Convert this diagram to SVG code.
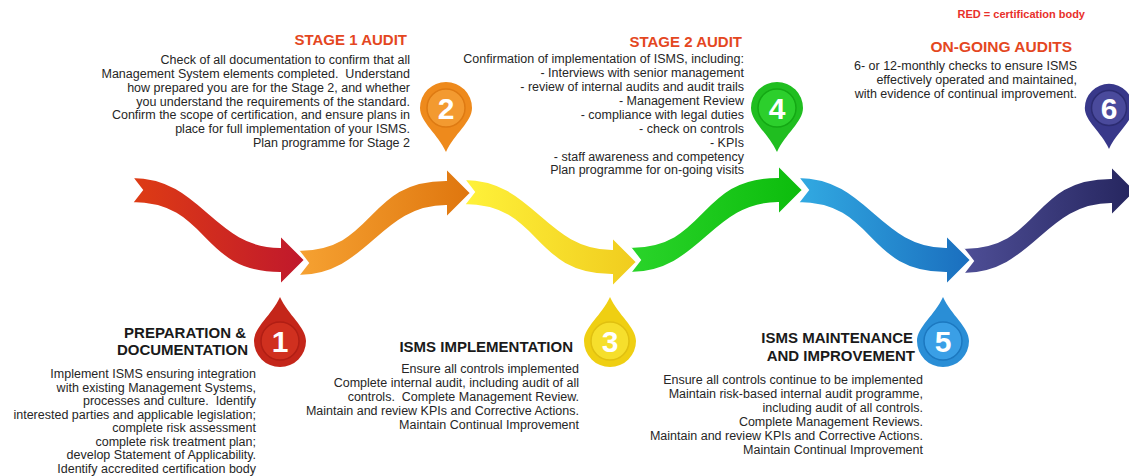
<svg xmlns="http://www.w3.org/2000/svg" width="1129" height="476" viewBox="0 0 1129 476">
<defs>
<style>
.h{font-family:"Liberation Sans",Arial,sans-serif;font-weight:bold;font-size:15px;fill:#e4471f;text-anchor:end}
.hk{font-family:"Liberation Sans",Arial,sans-serif;font-weight:bold;font-size:15px;fill:#1a1a1a;text-anchor:end}
.b{font-family:"Liberation Sans",Arial,sans-serif;font-size:12.5px;fill:#262626;text-anchor:end;white-space:pre}
.red{font-family:"Liberation Sans",Arial,sans-serif;font-weight:bold;font-size:11px;fill:#e8302a;text-anchor:end}
.num{font-family:"Liberation Sans",Arial,sans-serif;font-weight:bold;font-size:30px;fill:#ffffff;text-anchor:middle}
.arr{stroke:#ffffff;stroke-width:2;stroke-linejoin:miter}
</style>
<linearGradient id="gRed" x1="0" y1="0" x2="1" y2="0"><stop offset="0" stop-color="#de3c14"/><stop offset="1" stop-color="#c0182c"/></linearGradient>
<linearGradient id="gOra" x1="0" y1="0" x2="1" y2="0"><stop offset="0" stop-color="#f6a232"/><stop offset="1" stop-color="#df760e"/></linearGradient>
<linearGradient id="gYel" x1="0" y1="0" x2="1" y2="0"><stop offset="0" stop-color="#fff23a"/><stop offset="1" stop-color="#f0cc1e"/></linearGradient>
<linearGradient id="gGre" x1="0" y1="0" x2="1" y2="0"><stop offset="0" stop-color="#2ad42a"/><stop offset="1" stop-color="#0cbc0c"/></linearGradient>
<linearGradient id="gBlu" x1="0" y1="0" x2="1" y2="0"><stop offset="0" stop-color="#32aae2"/><stop offset="1" stop-color="#1a6ebe"/></linearGradient>
<linearGradient id="gNav" x1="0" y1="0" x2="1" y2="0"><stop offset="0" stop-color="#4e4e96"/><stop offset="1" stop-color="#25255e"/></linearGradient>
<path id="arrow" d="M0,-13 C70,-13 82,57 148,57 L148,45 L173,70 L148,95 L148,83 C66,83 78,13 0,13 L10,0 Z"/>
<path id="pin" d="M-26,0 A26,26 0 1 1 26,0 C26,14 8,26 0,44 C-8,26 -26,14 -26,0 Z"/>
</defs>
<rect x="0" y="0" width="1129" height="476" fill="#ffffff"/>

<g id="connectors">
<use href="#arrow" class="arr" fill="url(#gRed)" transform="translate(132,190)"/>
<use href="#arrow" class="arr" fill="url(#gOra)" transform="translate(298,263) scale(1,-1)"/>
<use href="#arrow" class="arr" fill="url(#gYel)" transform="translate(464,192)"/>
<use href="#arrow" class="arr" fill="url(#gGre)" transform="translate(630,260) scale(1,-1)"/>
<use href="#arrow" class="arr" fill="url(#gBlu)" transform="translate(798,190)"/>
<use href="#arrow" class="arr" fill="url(#gNav)" transform="translate(963,261) scale(1,-1)"/>
</g>

<text class="red" x="1085" y="18">RED = certification body</text>

<g id="node1">
<g transform="translate(280,341) scale(1,-1)"><use href="#pin" fill="#c4261a"/></g>
<circle cx="280" cy="341" r="19" fill="#d0301f" stroke="#b01e14" stroke-width="1.5"/>
<text class="num" x="280" y="352">1</text>
<text class="hk" x="246" y="338">PREPARATION &amp;</text>
<text class="hk" x="248" y="355">DOCUMENTATION</text>
<text class="b" x="256" y="378">Implement ISMS ensuring integration</text>
<text class="b" x="256" y="391.5">with existing Management Systems,</text>
<text class="b" x="256" y="405">processes and culture.  Identify</text>
<text class="b" x="256" y="418.5">interested parties and applicable legislation;</text>
<text class="b" x="256" y="432">complete risk assessment</text>
<text class="b" x="256" y="445.5">complete risk treatment plan;</text>
<text class="b" x="256" y="459">develop Statement of Applicability.</text>
<text class="b" x="256" y="472.5">Identify accredited certification body</text>
</g>

<g id="node2">
<use href="#pin" fill="#ee8a1c" transform="translate(446,108)"/>
<circle cx="446" cy="108" r="19" fill="#f39a30" stroke="#de7a12" stroke-width="1.5"/>
<text class="num" x="446" y="119">2</text>
<text class="h" x="407" y="45">STAGE 1 AUDIT</text>
<text class="b" x="410" y="64">Check of all documentation to confirm that all</text>
<text class="b" x="410" y="78">Management System elements completed.  Understand</text>
<text class="b" x="410" y="91.5">how prepared you are for the Stage 2, and whether</text>
<text class="b" x="410" y="105.5">you understand the requirements of the standard.</text>
<text class="b" x="410" y="119">Confirm the scope of certification, and ensure plans in</text>
<text class="b" x="410" y="133">place for full implementation of your ISMS.</text>
<text class="b" x="410" y="147">Plan programme for Stage 2</text>
</g>

<g id="node3">
<g transform="translate(610,341) scale(1,-1)"><use href="#pin" fill="#efcf12"/></g>
<circle cx="610" cy="341" r="19" fill="#f6df2c" stroke="#e0c010" stroke-width="1.5"/>
<text class="num" x="610" y="352">3</text>
<text class="hk" x="573" y="352">ISMS IMPLEMENTATION</text>
<text class="b" x="579" y="373">Ensure all controls implemented</text>
<text class="b" x="579" y="387">Complete internal audit, including audit of all</text>
<text class="b" x="579" y="401">controls.  Complete Management Review.</text>
<text class="b" x="579" y="415">Maintain and review KPIs and Corrective Actions.</text>
<text class="b" x="579" y="429">Maintain Continual Improvement</text>
</g>

<g id="node4">
<use href="#pin" fill="#20be20" transform="translate(777,108)"/>
<circle cx="777" cy="108" r="19" fill="#2ccf2c" stroke="#14a814" stroke-width="1.5"/>
<text class="num" x="777" y="119">4</text>
<text class="h" x="742" y="47">STAGE 2 AUDIT</text>
<text class="b" x="744" y="63">Confirmation of implementation of ISMS, including:</text>
<text class="b" x="744" y="77">- Interviews with senior management</text>
<text class="b" x="744" y="91">- review of internal audits and audit trails</text>
<text class="b" x="744" y="105">- Management Review</text>
<text class="b" x="744" y="119">- compliance with legal duties</text>
<text class="b" x="744" y="133">- check on controls</text>
<text class="b" x="744" y="147">- KPIs</text>
<text class="b" x="744" y="161">- staff awareness and competency</text>
<text class="b" x="744" y="174">Plan programme for on-going visits</text>
</g>

<g id="node5">
<g transform="translate(943,341) scale(1,-1)"><use href="#pin" fill="#2a8ed6"/></g>
<circle cx="943" cy="341" r="19" fill="#3a9fe6" stroke="#1c78c0" stroke-width="1.5"/>
<text class="num" x="943" y="352">5</text>
<text class="hk" x="913" y="343">ISMS MAINTENANCE</text>
<text class="hk" x="915" y="361">AND IMPROVEMENT</text>
<text class="b" x="923" y="384">Ensure all controls continue to be implemented</text>
<text class="b" x="923" y="398">Maintain risk-based internal audit programme,</text>
<text class="b" x="923" y="412">including audit of all controls.</text>
<text class="b" x="923" y="426">Complete Management Reviews.</text>
<text class="b" x="923" y="440">Maintain and review KPIs and Corrective Actions.</text>
<text class="b" x="923" y="454">Maintain Continual Improvement</text>
</g>

<g id="node6">
<use href="#pin" fill="#38388a" transform="translate(1109,108) scale(0.93)"/>
<circle cx="1109" cy="108" r="17.5" fill="#4a4a9c" stroke="#2c2c72" stroke-width="1.5"/>
<text class="num" x="1109" y="119">6</text>
<text class="h" x="1072" y="52" style="font-size:15.5px">ON-GOING AUDITS</text>
<text class="b" x="1077" y="70">6- or 12-monthly checks to ensure ISMS</text>
<text class="b" x="1077" y="84">effectively operated and maintained,</text>
<text class="b" x="1077" y="98">with evidence of continual improvement.</text>
</g>
</svg>
